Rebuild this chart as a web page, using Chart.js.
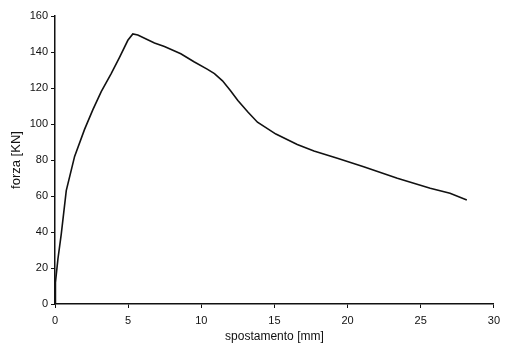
<!DOCTYPE html>
<html>
<head>
<meta charset="utf-8">
<script src="https://cdn.jsdelivr.net/npm/chart.js@4"></script>
<style>
  html, body { margin: 0; padding: 0; background: #fff; }
  #wrap { width: 506px; height: 347px; }
</style>
</head>
<body>
<div id="wrap"><canvas id="curve"></canvas></div>
<script>
// displacement [mm] and force [KN]
const spostamento = [0, 0.03, 0.2, 0.43, 0.77, 1.34, 2.02, 2.59, 3.16, 3.84, 4.41, 4.98, 5.32, 5.66, 6.8, 7.48, 8.6, 9.5, 10.4, 10.9, 11.45, 12.0, 12.5, 13.2, 13.84, 15.1, 16.56, 17.7, 19.3, 21.1, 23.4, 25.65, 27.0, 28.15];
const forza = [0, 12, 25, 39, 63, 82, 97, 108, 118, 128, 137, 146.5, 150, 149.4, 145, 143, 139, 134.6, 130.5, 128, 124, 118.5, 113, 106.5, 101, 94.4, 88.6, 85, 81, 76.3, 69.8, 64.3, 61.5, 57.8];
const xTicks = [0, 5, 10, 15, 20, 25, 30];
const yTicks = [0, 20, 40, 60, 80, 100, 120, 140, 160];

const font = "'Liberation Sans', Arial, sans-serif";

const points = spostamento.map((x, i) => ({ x: x, y: forza[i] }));

const ctx = document.getElementById('curve').getContext('2d');
const chart = new Chart(ctx, {
    type: 'line',
    data: {
        datasets: [{
            data: points,
            borderColor: '#111',
            borderWidth: 1.6,
            pointRadius: 0,
            tension: 0,
            fill: false
        }]
    },
    options: {
        responsive: true,
        maintainAspectRatio: false,
        animation: false,
        layout: { padding: { top: 16, right: 11, left: 0, bottom: 0 } },
        plugins: { legend: { display: false }, tooltip: { enabled: false } },
        scales: {
            x: {
                type: 'linear',
                min: 0,
                max: 30,
                afterBuildTicks: (s) => { s.ticks = xTicks.map(v => ({ value: v })); },
                afterFit: (s) => { s.height = 43; },
                grid: { display: true, drawOnChartArea: false, drawTicks: true, tickLength: 4, color: '#111', tickWidth: 1 },
                border: { display: true, color: '#111', width: 1.5 },
                ticks: { color: '#111', font: { family: font, size: 11 }, padding: 6, maxRotation: 0 },
                title: { display: true, text: 'spostamento [mm]', color: '#111', font: { family: font, size: 12 }, padding: { top: 0, bottom: 3 } }
            },
            y: {
                min: 0,
                max: 160,
                afterBuildTicks: (s) => { s.ticks = yTicks.map(v => ({ value: v })); },
                afterFit: (s) => { s.width = 55; },
                grid: { display: true, drawOnChartArea: false, drawTicks: true, tickLength: 4, color: '#111', tickWidth: 1 },
                border: { display: true, color: '#111', width: 1.5 },
                ticks: { color: '#111', font: { family: font, size: 11 }, padding: 3 },
                title: { display: true, text: 'forza [KN]', color: '#111', font: { family: font, size: 13 }, padding: { top: 9, bottom: 0 } }
            }
        }
    }
});
</script>
</body>
</html>
